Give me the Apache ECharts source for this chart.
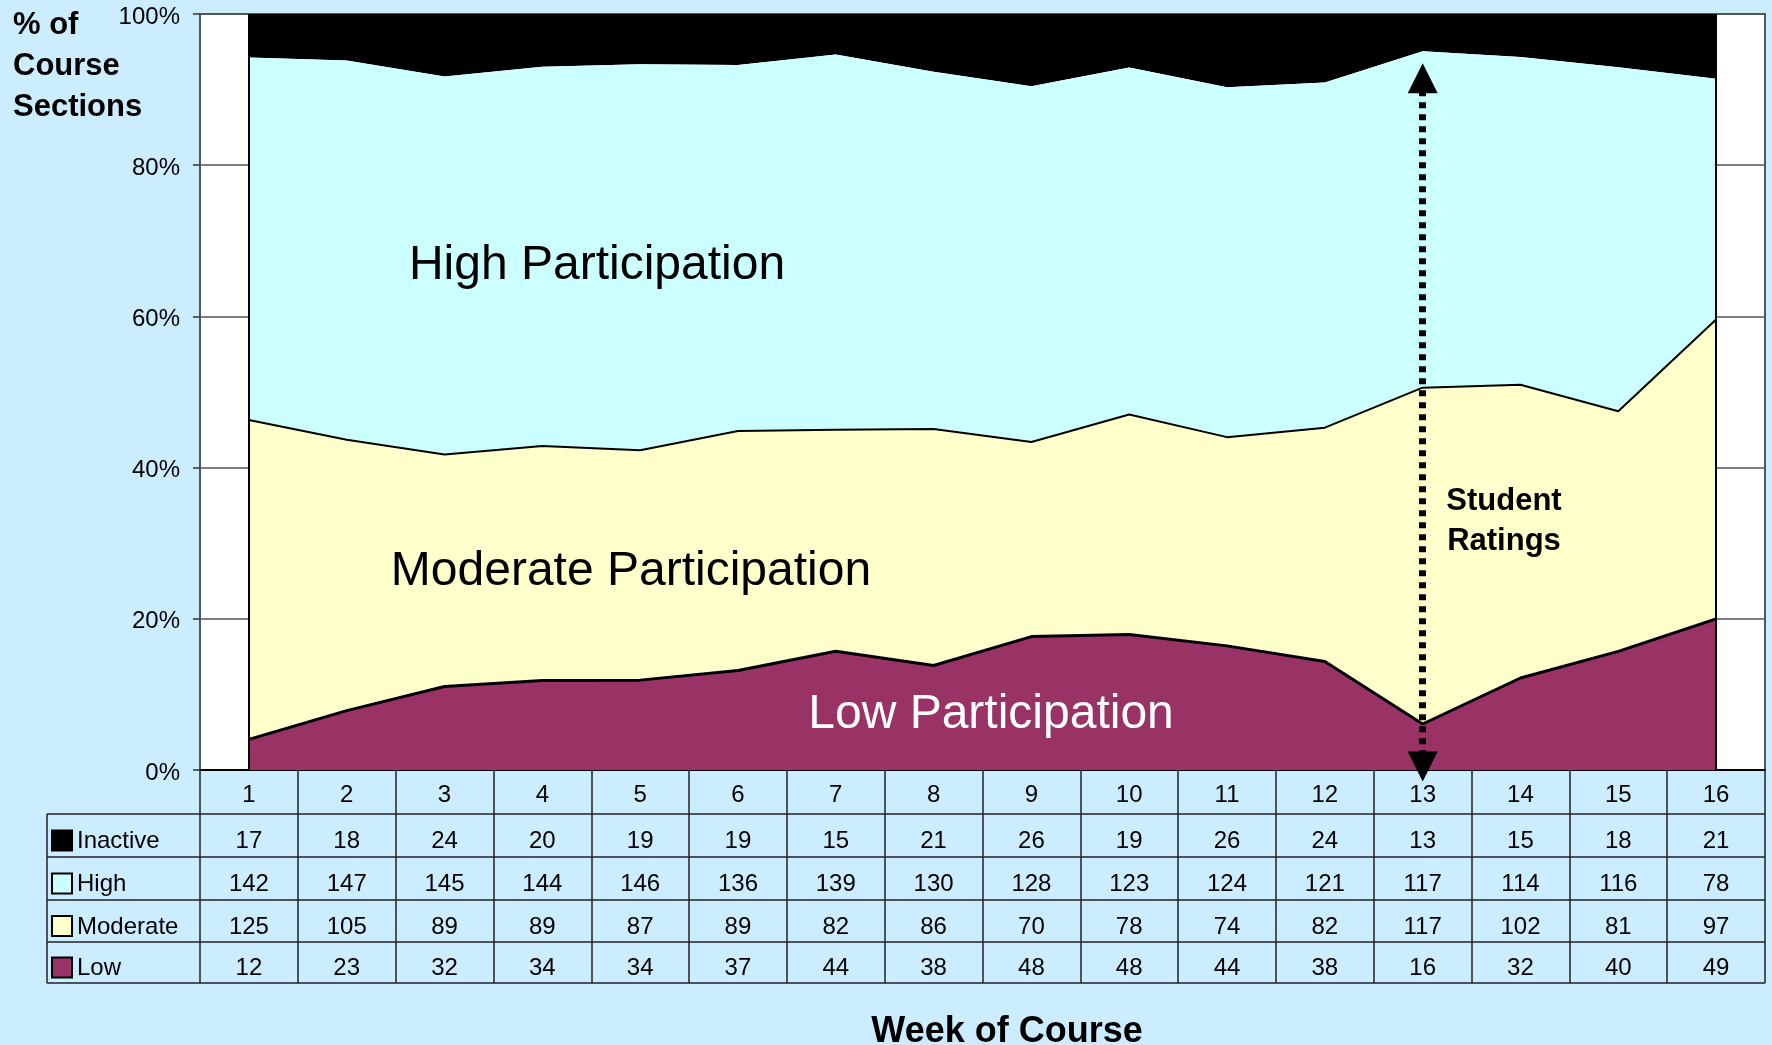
<!DOCTYPE html>
<html>
<head>
<meta charset="utf-8">
<script src="https://cdn.jsdelivr.net/npm/echarts@6/dist/echarts.min.js"></script>
<style>
  html, body { margin: 0; padding: 0; background: #CCECFF; }
  #chart { width: 1772px; height: 1045px; }
</style>
</head>
<body>
<div id="chart"></div>
<script>
var FONT = '"Liberation Sans", Arial, sans-serif';

// data (counts of course sections per week)
var weeks = ['1', '2', '3', '4', '5', '6', '7', '8', '9', '10', '11', '12', '13', '14', '15', '16'];
var inactive = [17, 18, 24, 20, 19, 19, 15, 21, 26, 19, 26, 24, 13, 15, 18, 21];
var high = [142, 147, 145, 144, 146, 136, 139, 130, 128, 123, 124, 121, 117, 114, 116, 78];
var moderate = [125, 105, 89, 89, 87, 89, 82, 86, 70, 78, 74, 82, 117, 102, 81, 97];
var low = [12, 23, 32, 34, 34, 37, 44, 38, 48, 48, 44, 38, 16, 32, 40, 49];
var ratingsWeek = '13';

var totals = weeks.map(function (w, i) {
  return inactive[i] + high[i] + moderate[i] + low[i];
});
function share(arr) {
  return arr.map(function (v, i) { return v / totals[i]; });
}

var chart = echarts.init(document.getElementById('chart'));

var option = {
  backgroundColor: '#CCECFF',
  animation: false,
  textStyle: { fontFamily: FONT },
  grid: {
    left: 200, right: 7, top: 14, bottom: 275,
    show: true, backgroundColor: '#ffffff', borderColor: '#555', borderWidth: 2,
    containLabel: false, outerBoundsMode: 'none'
  },
  xAxis: {
    type: 'category',
    data: weeks,
    boundaryGap: true,
    axisLine: { lineStyle: { color: '#000', width: 2 } },
    axisTick: { show: true, interval: 0, length: 213, lineStyle: { color: '#222', width: 1.5 } },
    axisLabel: { interval: 0, margin: 13, fontSize: 24, color: '#000', fontFamily: FONT },
    splitLine: { show: false }
  },
  yAxis: {
    type: 'value',
    min: 0, max: 1, interval: 0.2,
    axisLine: { show: true, lineStyle: { color: '#555', width: 2 } },
    axisTick: { show: true, length: 7, lineStyle: { color: '#333', width: 1.5 } },
    axisLabel: {
      fontSize: 24, color: '#000', margin: 20, fontFamily: FONT,
      formatter: function (v) { return '{p|' + Math.round(v * 100) + '%}'; },
      rich: { p: { fontSize: 24, color: '#000', fontFamily: FONT, padding: [6, 0, 0, 0] } }
    },
    splitLine: { lineStyle: { color: '#555', width: 1.5 } }
  },
  series: [
    {
      name: 'Low', type: 'line', stack: 'pct', data: share(low),
      symbol: 'none', z: 5, clip: false, silent: true,
      lineStyle: { color: '#000', width: 3 },
      areaStyle: { color: '#993366', opacity: 1 },
      markLine: {
        silent: true, z: 10, symbol: ['triangle', 'triangle'], symbolSize: [30, 30],
        label: { show: false },
        lineStyle: { color: '#000', width: 7, type: [6, 6], cap: 'butt' },
        data: [[{ coord: [ratingsWeek, 0.915] }, { coord: [ratingsWeek, 0.0046] }]]
      }
    },
    {
      name: 'Moderate', type: 'line', stack: 'pct', data: share(moderate),
      symbol: 'none', z: 4, silent: true,
      lineStyle: { color: '#000', width: 2 },
      areaStyle: { color: '#FFFFCC', opacity: 1 }
    },
    {
      name: 'High', type: 'line', stack: 'pct', data: share(high),
      symbol: 'none', z: 3, silent: true,
      lineStyle: { color: '#000', width: 0, opacity: 0 },
      areaStyle: { color: '#CCFFFF', opacity: 1 }
    },
    {
      name: 'Inactive', type: 'line', stack: 'pct', data: share(inactive),
      symbol: 'none', z: 2, silent: true,
      lineStyle: { color: '#000', width: 0, opacity: 0 },
      areaStyle: { color: '#000000', opacity: 1 },
      markLine: {
        silent: true, z: 9, symbol: 'none',
        label: { show: false },
        lineStyle: { color: '#000', width: 2, type: 'solid' },
        data: [{ xAxis: weeks[0] }, { xAxis: weeks[weeks.length - 1] }]
      }
    }
  ]
};
chart.setOption(option);

// data table under the axis, plus annotations
var rowTops = [814, 857, 900, 942, 983];
var tableLeft = 47, tableRight = 1765;
var rows = [
  { name: 'Inactive', color: '#000000', data: inactive },
  { name: 'High', color: '#CCFFFF', data: high },
  { name: 'Moderate', color: '#FFFFCC', data: moderate },
  { name: 'Low', color: '#993366', data: low }
];

var g = [];
rowTops.forEach(function (y) {
  g.push({ type: 'line', shape: { x1: tableLeft, y1: y, x2: tableRight, y2: y },
    style: { stroke: '#222', lineWidth: 1.5 }, z: 20 });
});
g.push({ type: 'line', shape: { x1: tableLeft, y1: rowTops[0], x2: tableLeft, y2: rowTops[4] },
  style: { stroke: '#222', lineWidth: 1.5 }, z: 20 });

rows.forEach(function (r, ri) {
  var cy = (rowTops[ri] + rowTops[ri + 1]) / 2 + 5;
  g.push({ type: 'rect', shape: { x: 52, y: cy - 10, width: 20, height: 20 },
    style: { fill: r.color, stroke: '#000', lineWidth: 2 }, z: 21 });
  g.push({ type: 'text', x: 77, y: cy + 1,
    style: { text: r.name, font: '24px ' + FONT, fill: '#000', textAlign: 'left', textVerticalAlign: 'middle' }, z: 21 });
  r.data.forEach(function (v, i) {
    var cx = chart.convertToPixel({ xAxisIndex: 0 }, weeks[i]);
    g.push({ type: 'text', x: cx, y: cy + 1,
      style: { text: String(v), font: '24px ' + FONT, fill: '#000', textAlign: 'center', textVerticalAlign: 'middle' }, z: 21 });
  });
});

// axis titles
g.push({ type: 'text', x: 13, y: 5,
  style: { text: '% of\nCourse\nSections', font: 'bold 31px ' + FONT, lineHeight: 41, fill: '#000',
    textAlign: 'left', textVerticalAlign: 'top' }, z: 21 });
g.push({ type: 'text', x: 1007, y: 1032,
  style: { text: 'Week of Course', font: 'bold 36px ' + FONT, fill: '#000',
    textAlign: 'center', textVerticalAlign: 'middle' }, z: 21 });

// region labels
g.push({ type: 'text', x: 597, y: 266,
  style: { text: 'High Participation', font: '48px ' + FONT, fill: '#000', textAlign: 'center', textVerticalAlign: 'middle' }, z: 21 });
g.push({ type: 'text', x: 631, y: 572,
  style: { text: 'Moderate Participation', font: '48px ' + FONT, fill: '#000', textAlign: 'center', textVerticalAlign: 'middle' }, z: 21 });
g.push({ type: 'text', x: 991, y: 715,
  style: { text: 'Low Participation', font: '48px ' + FONT, fill: '#fff', textAlign: 'center', textVerticalAlign: 'middle' }, z: 21 });
g.push({ type: 'text', x: 1504, y: 521,
  style: { text: 'Student\nRatings', font: 'bold 31px ' + FONT, lineHeight: 40, fill: '#000',
    textAlign: 'center', textVerticalAlign: 'middle' }, z: 21 });

chart.setOption({ graphic: g });
window.addEventListener('resize', function () { chart.resize(); });
</script>
</body>
</html>
